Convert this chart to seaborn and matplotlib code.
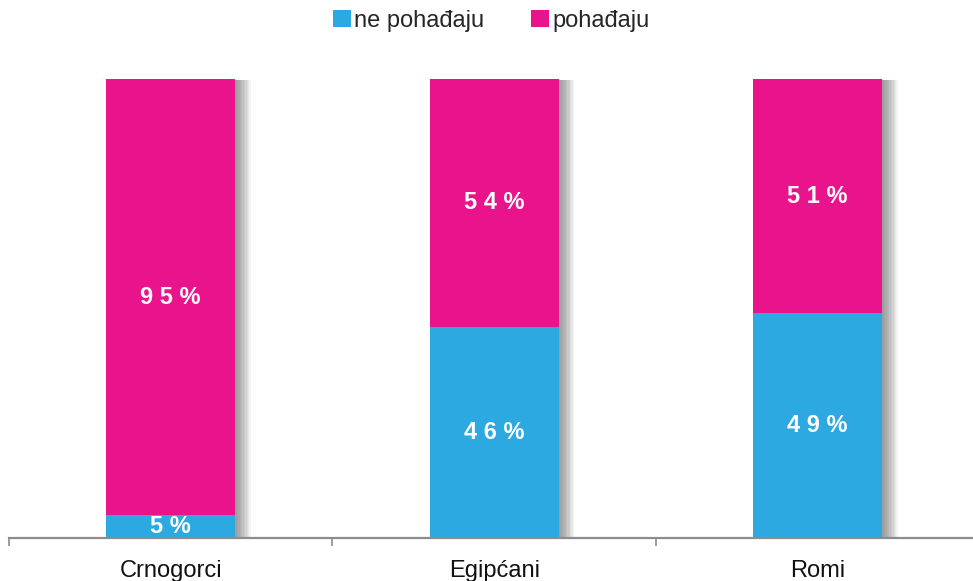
import matplotlib
matplotlib.use("Agg")
import matplotlib.pyplot as plt
import matplotlib.patheffects as pe
from matplotlib.patches import Patch
import seaborn as sns
import pandas as pd

categories = ["Crnogorci", "Egipćani", "Romi"]
ne_pohadjaju = [5, 46, 49]
pohadjaju = [95, 54, 51]
series_names = ["ne pohađaju", "pohađaju"]

BLUE = "#2DA9E1"
PINK = "#E9138C"

sns.set_theme(style="white")
plt.rcParams["font.family"] = ["Liberation Sans", "DejaVu Sans"]

fig = plt.figure(figsize=(9.73, 5.81), dpi=100)
ax = fig.add_axes([9 / 973, 43 / 581, 970.5 / 973, 459 / 581])

df = pd.DataFrame({
    "cat": categories,
    "ne": ne_pohadjaju,
    "po": pohadjaju,
})
df["total"] = df["ne"] + df["po"]

shadow = [pe.SimplePatchShadow(offset=(d, -0.7), shadow_rgbFace="#555555", alpha=0.07)
          for d in [1, 2, 3, 4, 5, 6, 7, 8, 9, 10, 11]] + [pe.Normal()]

sns.barplot(data=df, x="cat", y="total", color=PINK, width=0.4, ax=ax,
            saturation=1, linewidth=0, zorder=2)
for p in ax.patches:
    p.set_path_effects(shadow)
sns.barplot(data=df, x="cat", y="ne", color=BLUE, width=0.4, ax=ax,
            saturation=1, linewidth=0, zorder=3)

def spaced(v):
    return " ".join(f"{v}%")

for i, (n, p) in enumerate(zip(ne_pohadjaju, pohadjaju)):
    ax.text(i, n / 2, spaced(n), ha="center", va="center", color="white",
            fontsize=17, fontweight="bold", zorder=5)
    ax.text(i, n + p / 2, spaced(p), ha="center", va="center", color="white",
            fontsize=17, fontweight="bold", zorder=5)

ax.set_xlim(-0.5, 2.5)
ax.set_ylim(0, 100)
ax.set_xlabel("")
ax.set_ylabel("")
ax.set_yticks([])
for s in ["top", "right", "left"]:
    ax.spines[s].set_visible(False)
ax.spines["bottom"].set_color("#8C8C8C")
ax.spines["bottom"].set_linewidth(1.6)
ax.spines["bottom"].set_zorder(6)

ax.set_xticks(range(len(categories)))
ax.set_xticklabels(categories, fontsize=17, color="#111111")
ax.tick_params(axis="x", which="major", length=0, pad=16)
ax.set_xticks([-0.5, 0.5, 1.5, 2.5], minor=True)
ax.tick_params(axis="x", which="minor", length=6, width=1.2, color="#8C8C8C",
               direction="out", bottom=True)

handles = [Patch(facecolor=BLUE, edgecolor="none"), Patch(facecolor=PINK, edgecolor="none")]
fig.legend(handles, series_names, loc="upper center", bbox_to_anchor=(0.505, 1.02),
           ncol=2, frameon=False, fontsize=17, handlelength=0.75, handleheight=0.75,
           handletextpad=0.15, columnspacing=2.0)

fig.savefig("out.png", dpi=100)
